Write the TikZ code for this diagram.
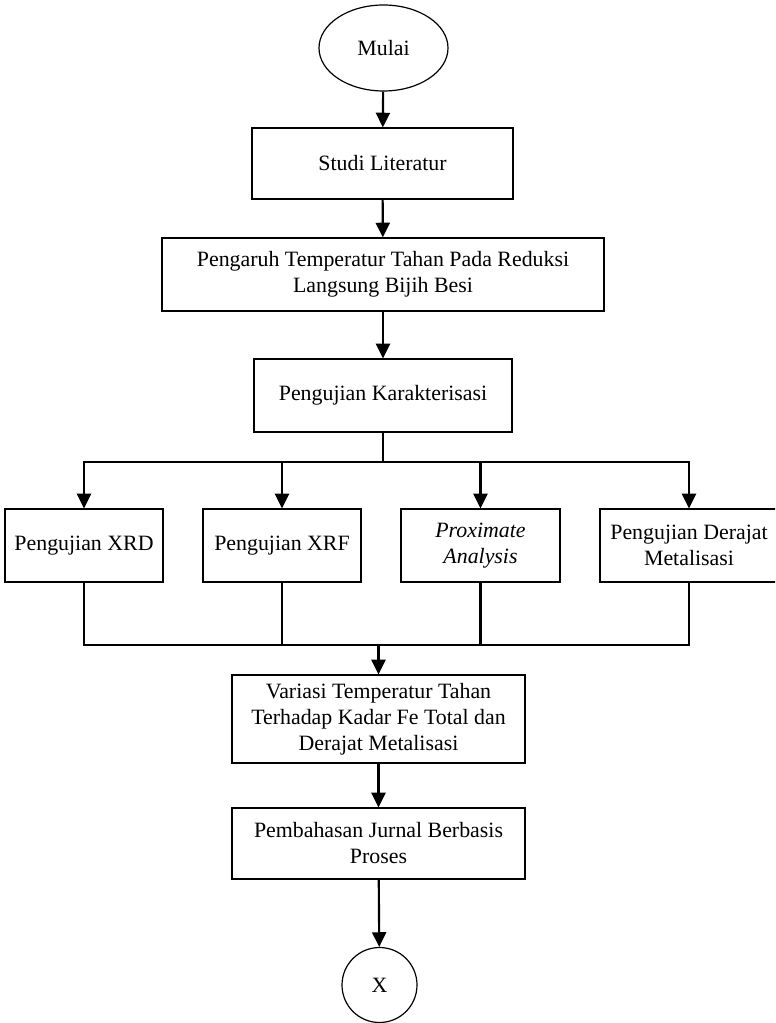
\documentclass[tikz,border=0pt]{standalone}
\usepackage{fontspec}
\setmainfont{Liberation Serif}
\usetikzlibrary{arrows.meta,shapes.geometric}

\tikzset{
  flowbox/.style={draw, line width=0.9pt, inner sep=0pt, align=center,
    font=\fontsize{16.4}{19.5}\selectfont},
  flowarrow/.style={line width=1.6pt, -{Triangle[length=11pt,width=10.5pt]}},
  flowline/.style={line width=1.6pt}
}

\begin{document}
\begin{tikzpicture}[x=0.75pt,y=0.75pt,yscale=-1,xscale=1]
\useasboundingbox (0,0) rectangle (775,1023);
\clip (0,0) rectangle (775,1023);

%Shape: Ellipse
\node [flowbox, ellipse, minimum width=0.75*129, minimum height=0.75*86] (mulai) at (383.5,48) {Mulai};
%Shape: Rectangle
\node [flowbox, minimum width=0.75*261, minimum height=0.75*71] (studi) at (382.5,163.5) {Studi Literatur};
\node [flowbox, minimum width=0.75*442, minimum height=0.75*73] (pengaruh) at (383,274.5) {Pengaruh Temperatur Tahan Pada Reduksi\\Langsung Bijih Besi};
\node [flowbox, minimum width=0.75*258, minimum height=0.75*73] (karakter) at (383,395.5) {Pengujian Karakterisasi};

% Pengujian
\node [flowbox, minimum width=0.75*158, minimum height=0.75*73] (xrd) at (84,545.5) {Pengujian XRD};
\node [flowbox, minimum width=0.75*158, minimum height=0.75*73] (xrf) at (282,545.5) {Pengujian XRF};
\node [flowbox, minimum width=0.75*159, minimum height=0.75*73] (prox) at (480.5,545.5) {\textit{Proximate}\\\textit{Analysis}};
\node [flowbox, minimum width=0.75*178, minimum height=0.75*73] (derajat) at (689,545.5) {Pengujian Derajat\\Metalisasi};

\node [flowbox, minimum width=0.75*293, minimum height=0.75*88] (variasi) at (378.5,719) {Variasi Temperatur Tahan\\Terhadap Kadar Fe Total dan\\Derajat Metalisasi};
\node [flowbox, minimum width=0.75*293, minimum height=0.75*71] (bahas) at (378.5,843.5) {Pembahasan Jurnal Berbasis\\Proses};
%Shape: Circle
\node [flowbox, circle, minimum size=0.75*75] (lanjut) at (379.5,985) {X};

\coordinate (split) at (383,462);
\coordinate (join) at (378.5,645);

%Straight Lines
\draw [flowarrow] (mulai) -- (studi);
\draw [flowarrow] (studi) -- (pengaruh);
\draw [flowarrow] (pengaruh) -- (karakter);
\draw [flowline] (karakter) -- (split);
\draw [flowarrow] (split) -| (xrd);
\draw [flowarrow] (split) -| (xrf);
\draw [flowarrow] (split) -| (prox);
\draw [flowarrow] (split) -| (derajat);

\draw [flowline] (xrd) |- (join);
\draw [flowline] (xrf) |- (join);
\draw [flowline] (prox) |- (join);
\draw [flowline] (derajat) |- (join);
\draw [flowarrow] (join) -- (variasi);
\draw [flowarrow] (variasi) -- (bahas);
\draw [flowarrow] (bahas) -- (lanjut);
\end{tikzpicture}
\end{document}
